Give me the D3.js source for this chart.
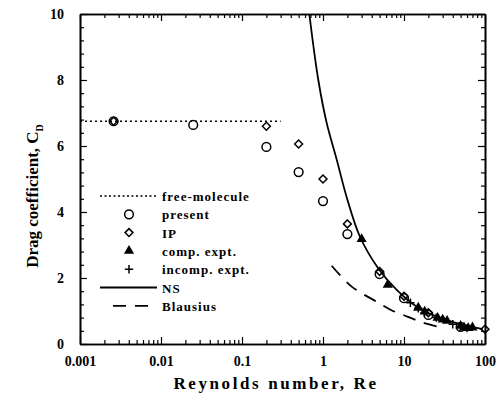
<!DOCTYPE html>
<html>
<head>
<meta charset="utf-8">
<script src="https://cdn.jsdelivr.net/npm/d3@7"></script>
<style>
  body { margin: 0; background: #fff; }
  text { font-family: "Liberation Serif", "DejaVu Serif", serif; font-weight: bold; fill: #000; }
</style>
</head>
<body>
<script>
(() => {
    // free-molecule limit (dotted)
    const fm_re = [0.001, 0.3]
    const fm_cd = [6.75, 6.75]

    // present (circles)
    const present_re = [0.0026, 0.025, 0.2, 0.5, 1, 2, 5, 10, 20, 50]
    const present_cd = [6.75, 6.64, 5.97, 5.21, 4.33, 3.33, 2.12, 1.39, 0.88, 0.52]

    // IP (diamonds)
    const ip_re = [0.0026, 0.2, 0.5, 1, 2, 5, 10, 20, 100]
    const ip_cd = [6.75, 6.6, 6.06, 5.0, 3.64, 2.2, 1.45, 0.95, 0.45]

    // comp. expt. (filled triangles)
    const comp_re = [3.0, 6.3, 15, 18, 26, 30, 34, 50, 55, 62, 70]
    const comp_cd = [3.18, 1.79, 1.1, 0.98, 0.79, 0.74, 0.7, 0.55, 0.5, 0.48, 0.5]

    // incomp. expt. (plus)
    const incomp_re = [12, 15, 18, 25, 40, 60]
    const incomp_cd = [1.25, 1.08, 0.95, 0.8, 0.6, 0.48]

    // NS (solid line)
    const ns_re = [0.678, 0.875, 1.11, 1.48, 1.96, 2.86, 4.82, 8.13, 14.4, 25.3, 53.5, 94]
    const ns_cd = [10, 8, 6.7, 5.58, 4.45, 3.25, 2.29, 1.64, 1.13, 0.83, 0.58, 0.45]

    // Blausius (dashed)
    const bl_re = [1.28, 2.26, 4.6, 6.9, 9.8, 17, 30.5]
    const bl_cd = [2.37, 1.74, 1.28, 1.03, 0.88, 0.65, 0.49]

    const x_ticks = [0.001, 0.01, 0.1, 1, 10, 100]
    const x_tick_labels = ["0.001", "0.01", "0.1", "1", "10", "100"]
    const y_ticks = [0, 2, 4, 6, 8, 10]

    const width = 499
    const height = 400
    const m = { left: 80, right: 14, top: 14, bottom: 56 }

    const svg = d3.select("body")
        .append("svg")
        .attr("width", width)
        .attr("height", height)

    const x = d3.scaleLog()
        .domain([0.001, 100])
        .range([m.left, width - m.right])
    const y = d3.scaleLinear()
        .domain([0, 10])
        .range([height - m.bottom, m.top])

    const x_minor = []
    for (let e = -3; e < 2; e++) {
        for (let k = 2; k <= 9; k++) x_minor.push(k * Math.pow(10, e))
    }
    const y_minor = d3.range(0, 10.01, 0.4).filter((v) => Math.abs(v / 2 - Math.round(v / 2)) > 0.01)

    // axes: ticks pointing inward on all four sides
    const axis_style = (g) => g.call((s) => s.select(".domain").attr("stroke-width", 1.6))
        .call((s) => s.selectAll(".tick line").attr("stroke-width", 1.2))
    const no_text = (g) => g.selectAll("text").remove()

    svg.append("g")
        .attr("transform", `translate(0,${y(0)})`)
        .call(d3.axisBottom(x).tickValues(x_ticks).tickFormat((d, i) => x_tick_labels[i])
            .tickSizeInner(-7).tickSizeOuter(0).tickPadding(12))
        .call(axis_style)
        .call((g) => g.selectAll("text").attr("font-size", 14).attr("font-family", null))
    svg.append("g")
        .attr("transform", `translate(0,${y(0)})`)
        .call(d3.axisBottom(x).tickValues(x_minor).tickSizeInner(-4).tickSizeOuter(0))
        .call(axis_style).call(no_text)
    svg.append("g")
        .attr("transform", `translate(0,${y(10)})`)
        .call(d3.axisTop(x).tickValues(x_ticks).tickSizeInner(-7).tickSizeOuter(0))
        .call(axis_style).call(no_text)
    svg.append("g")
        .attr("transform", `translate(0,${y(10)})`)
        .call(d3.axisTop(x).tickValues(x_minor).tickSizeInner(-4).tickSizeOuter(0))
        .call(axis_style).call(no_text)
    svg.append("g")
        .attr("transform", `translate(${x(0.001)},0)`)
        .call(d3.axisLeft(y).tickValues(y_ticks).tickFormat(d3.format("d"))
            .tickSizeInner(-7).tickSizeOuter(0).tickPadding(16))
        .call(axis_style)
        .call((g) => g.selectAll("text").attr("font-size", 14).attr("font-family", null))
    svg.append("g")
        .attr("transform", `translate(${x(0.001)},0)`)
        .call(d3.axisLeft(y).tickValues(y_minor).tickSizeInner(-4).tickSizeOuter(0))
        .call(axis_style).call(no_text)
    svg.append("g")
        .attr("transform", `translate(${x(100)},0)`)
        .call(d3.axisRight(y).tickValues(y_ticks).tickSizeInner(-7).tickSizeOuter(0))
        .call(axis_style).call(no_text)
    svg.append("g")
        .attr("transform", `translate(${x(100)},0)`)
        .call(d3.axisRight(y).tickValues(y_minor).tickSizeInner(-4).tickSizeOuter(0))
        .call(axis_style).call(no_text)

    // axis titles
    svg.append("text")
        .attr("x", 276)
        .attr("y", 389)
        .attr("text-anchor", "middle")
        .attr("font-size", 17)
        .attr("letter-spacing", 2.6)
        .text("Reynolds number, Re")
    const yt = svg.append("text")
        .attr("transform", "translate(38,196) rotate(-90)")
        .attr("text-anchor", "middle")
        .attr("font-size", 17)
    yt.append("tspan").text("Drag coefficient, C")
    yt.append("tspan").attr("font-size", 10).attr("dy", 5).text("D")

    const pts = (re, cd) => re.map((r, i) => [r, cd[i]])
    const line = d3.line().x((d) => x(d[0])).y((d) => y(d[1]))
    const curve = d3.line().x((d) => x(d[0])).y((d) => y(d[1])).curve(d3.curveCatmullRom)

    const plot = svg.append("g")
    plot.append("path")
        .attr("fill", "none").attr("stroke", "#000").attr("stroke-width", 1.3)
        .attr("stroke-dasharray", "2,3")
        .attr("d", line(pts(fm_re, fm_cd)))
    plot.append("path")
        .attr("fill", "none").attr("stroke", "#000").attr("stroke-width", 1.8)
        .attr("d", curve(pts(ns_re, ns_cd)))
    plot.append("path")
        .attr("fill", "none").attr("stroke", "#000").attr("stroke-width", 1.8)
        .attr("stroke-dasharray", "13,9")
        .attr("d", curve(pts(bl_re, bl_cd)))

    // thin "+" marker drawn as two strokes
    const plus_type = {
        draw(ctx, size) {
            const r = Math.sqrt(size) / 2
            ctx.moveTo(-r, 0); ctx.lineTo(r, 0)
            ctx.moveTo(0, -r); ctx.lineTo(0, r)
        }
    }
    const sym = {
        circle: d3.symbol().type(d3.symbolCircle).size(60),
        diamond: d3.symbol().type(d3.symbolDiamond2).size(40),
        triangle: d3.symbol().type(d3.symbolTriangle).size(45),
        plus: d3.symbol().type(plus_type).size(70),
    }

    plot.selectAll("path.comp")
        .data(pts(comp_re, comp_cd))
        .join("path")
        .attr("class", "comp")
        .attr("transform", (d) => `translate(${x(d[0])},${y(d[1])})`)
        .attr("d", sym.triangle())
        .attr("fill", "#000")
    plot.selectAll("path.incomp")
        .data(pts(incomp_re, incomp_cd))
        .join("path")
        .attr("class", "incomp")
        .attr("transform", (d) => `translate(${x(d[0])},${y(d[1])})`)
        .attr("d", sym.plus())
        .attr("fill", "none").attr("stroke", "#000").attr("stroke-width", 1.5)
    plot.selectAll("path.present")
        .data(pts(present_re, present_cd))
        .join("path")
        .attr("class", "present")
        .attr("transform", (d) => `translate(${x(d[0])},${y(d[1])})`)
        .attr("d", sym.circle())
        .attr("fill", "none").attr("stroke", "#000").attr("stroke-width", 1.5)
    plot.selectAll("path.ip")
        .data(pts(ip_re, ip_cd))
        .join("path")
        .attr("class", "ip")
        .attr("transform", (d) => `translate(${x(d[0])},${y(d[1])})`)
        .attr("d", sym.diamond())
        .attr("fill", "none").attr("stroke", "#000").attr("stroke-width", 1.5)

    // legend
    const legend = [
        { label: "free-molecule", kind: "dot" },
        { label: "present", kind: "circle" },
        { label: "IP", kind: "diamond" },
        { label: "comp. expt.", kind: "triangle" },
        { label: "incomp. expt.", kind: "plus" },
        { label: "NS", kind: "solid" },
        { label: "Blausius", kind: "dash" },
    ]
    const lg = svg.append("g").attr("transform", "translate(100,196)")
    legend.forEach((item, i) => {
        const row = lg.append("g").attr("transform", `translate(0,${i * 18.3})`)
        if (item.kind === "dot") {
            row.append("line").attr("x1", 0).attr("x2", 56).attr("stroke", "#000")
                .attr("stroke-width", 1.3).attr("stroke-dasharray", "2,2.5")
        } else if (item.kind === "solid") {
            row.append("line").attr("x1", 0).attr("x2", 57).attr("stroke", "#000").attr("stroke-width", 1.8)
        } else if (item.kind === "dash") {
            row.append("line").attr("x1", 13).attr("x2", 55).attr("stroke", "#000")
                .attr("stroke-width", 1.8).attr("stroke-dasharray", "13,9")
        } else if (item.kind === "triangle") {
            row.append("path").attr("transform", "translate(29,0)").attr("d", sym.triangle()).attr("fill", "#000")
        } else {
            row.append("path").attr("transform", "translate(29,0)").attr("d", sym[item.kind]())
                .attr("fill", "none").attr("stroke", "#000").attr("stroke-width", 1.5)
        }
        row.append("text")
            .attr("x", 62)
            .attr("y", 5)
            .attr("font-size", 13)
            .attr("letter-spacing", 1)
            .text(item.label)
    })
})()
</script>
</body>
</html>
